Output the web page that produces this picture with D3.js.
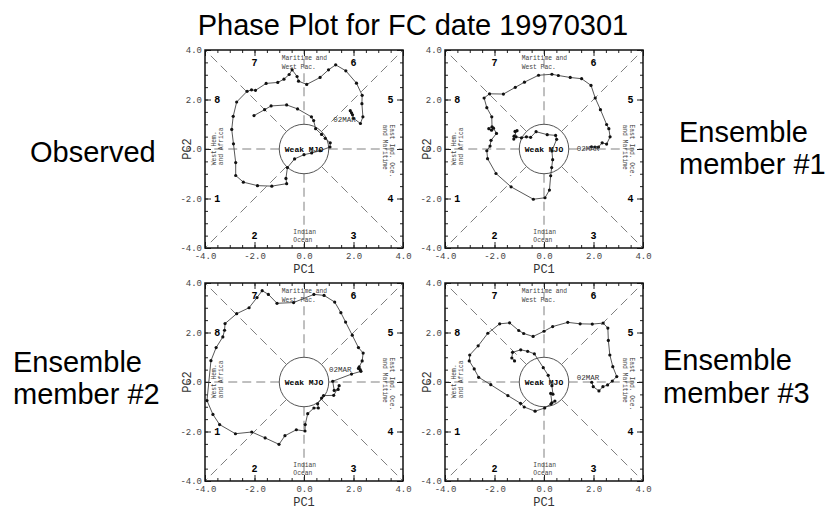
<!DOCTYPE html>
<html>
<head>
<meta charset="utf-8">
<script src="https://cdn.jsdelivr.net/npm/d3@7"></script>
<style>
  body { margin: 0; background: #ffffff; }
  svg { display: block; }
</style>
</head>
<body>
<div id="chart"></div>
<script>
// titles and captions
var title = "Phase Plot for FC date 19970301";
var captions = [["Observed"], ["Ensemble", "member #1"],
                ["Ensemble", "member #2"], ["Ensemble", "member #3"]];

// axis ticks and phase numbers
var tickValues = [-4, -2, 0, 2, 4];
var phaseNums = ["1", "2", "3", "4", "5", "6", "7", "8"];
var phasePC1 = [-3.5, -2, 2, 3.5, 3.5, 2, -2, -3.5];
var phasePC2 = [-2, -3.5, -3.5, -2, 2, 3.5, 3.5, 2];

// observed trajectory
var obsPC1 = [1.87, 1.92, 1.96, 2.00, 2.28, 2.38, 2.34, 2.35, 2.12, 1.69, 1.28, 0.99,
  0.65, 0.11, -0.22, -0.28, -0.48, -0.60, -0.81, -1.06, -1.53, -1.96, -2.12, -2.30,
  -2.72, -2.86, -2.92, -2.85, -2.76, -2.76, -2.45, -1.88, -1.30, -0.70, -0.73, -0.67,
  -0.38, 0.00, 0.31, 0.65, 1.05, 1.06, 0.86, 0.71, 0.47, 0.39, 0.30, -0.26, -0.70,
  -1.33, -1.59, -2.02];
var obsPC2 = [1.55, 1.46, 1.38, 1.24, 1.03, 1.30, 1.83, 2.17, 2.66, 3.16, 3.40, 3.20,
  2.89, 2.61, 2.74, 2.93, 3.20, 3.01, 2.82, 2.69, 2.65, 2.37, 2.39, 2.33, 1.90, 1.32,
  0.79, 0.21, -0.55, -1.07, -1.34, -1.48, -1.50, -1.40, -1.19, -0.75, -0.40, -0.23,
  -0.16, -0.07, 0.08, 0.25, 0.43, 0.59, 0.82, 1.15, 1.30, 1.62, 1.78, 1.74, 1.59, 1.35];

// ensemble member 1
var ens1PC1 = [1.92, 2.06, 2.20, 2.35, 2.53, 2.67, 2.62, 2.53, 2.28, 2.07, 1.90, 1.52,
  1.06, 0.58, 0.32, -0.22, -0.79, -1.16, -1.64, -2.20, -2.42, -2.31, -2.11, -2.10,
  -2.23, -2.12, -2.04, -1.92, -2.14, -2.18, -2.31, -2.28, -1.94, -1.33, -0.43, 0.04,
  0.22, 0.27, 0.31, 0.35, 0.32, 0.51, 0.47, 0.13, -0.32, -0.54, -0.71, -0.91, -1.13,
  -1.17, -1.09, -1.21, -1.22];
var ens1PC2 = [0.09, 0.08, 0.08, 0.25, 0.20, 0.49, 0.82, 0.99, 1.59, 2.06, 2.57, 2.84,
  2.89, 2.97, 3.02, 2.98, 2.70, 2.49, 2.22, 2.23, 2.06, 1.67, 1.30, 0.90, 0.82, 0.76,
  0.84, 0.63, 0.35, 0.12, -0.07, -0.39, -0.99, -1.53, -2.03, -1.97, -1.66, -1.08,
  -0.75, -0.43, -0.08, 0.39, 0.55, 0.58, 0.70, 0.47, 0.49, 0.45, 0.49, 0.71, 0.74,
  0.52, 0.40];

// ensemble member 2
var ens2PC1 = [2.20, 2.27, 2.30, 1.92, 1.16, 1.22, 1.38, 1.42, 1.20, 0.79, 0.71, 0.55,
  0.58, 0.40, 0.15, 0.05, 0.04, -0.31, -0.77, -1.01, -1.57, -2.11, -2.77, -3.41,
  -3.68, -3.92, -3.76, -3.55, -3.28, -3.21, -3.19, -2.72, -2.22, -1.90, -1.69, -1.44,
  -1.09, -0.42, 0.40, 0.81, 1.24, 1.49, 1.68, 1.95, 2.20, 2.39, 2.35, 2.23];
var ens2PC2 = [0.55, 0.50, 0.43, 0.32, 0.03, -0.34, -0.30, -0.15, -0.54, -0.55, -0.65,
  -0.88, -1.05, -1.05, -1.28, -1.72, -1.98, -1.93, -2.17, -2.52, -2.26, -2.02, -2.09,
  -1.72, -1.31, -0.75, 0.86, 1.39, 1.82, 2.09, 2.36, 2.76, 3.00, 3.41, 3.69, 3.54,
  3.18, 3.21, 3.54, 3.50, 3.23, 2.80, 2.42, 1.89, 1.39, 1.17, 0.85, 0.61];

// ensemble member 3
var ens3PC1 = [-1.19, -1.30, -1.27, -0.94, -0.66, -0.39, -0.03, 0.17, 0.32, 0.36, 0.27,
  0.32, 0.44, 0.28, 0.03, -0.36, -0.80, -0.95, -1.46, -2.15, -2.64, -2.82, -3.02,
  -3.00, -2.66, -2.27, -1.79, -1.39, -1.02, -0.82, -0.44, 0.00, 0.35, 0.96, 1.46,
  1.95, 2.39, 2.58, 2.60, 2.66, 2.78, 2.94, 2.76, 2.57, 2.38, 2.22, 1.99, 1.93];
var ens3PC2 = [0.85, 0.97, 1.20, 1.30, 1.24, 1.14, 0.58, 0.27, -0.15, -0.49, -0.46,
  -0.84, -0.77, -0.89, -1.05, -1.18, -1.01, -0.86, -0.55, -0.11, 0.19, 0.53, 0.85,
  1.09, 1.46, 1.97, 2.35, 2.39, 2.08, 1.96, 1.84, 2.05, 2.24, 2.41, 2.35, 2.34, 2.38,
  2.18, 1.68, 1.09, 0.62, 0.22, 0.04, -0.12, -0.19, -0.36, -0.19, -0.01];

// where the start date label sits in each panel
var startLabel = "02MAR";
var startPC1 = [1.18, 1.32, 1.01, 1.32];
var startPC2 = [1.19, 0.03, 0.51, 0.20];

var seriesPC1 = [obsPC1, ens1PC1, ens2PC1, ens3PC1];
var seriesPC2 = [obsPC2, ens1PC2, ens2PC2, ens3PC2];

// layout of the four panels
var size = 198,
    panelPos = [[205, 50], [445, 50], [205, 283], [445, 283]],
    captionPos = [[30, [162]], [679, [142, 174]], [13, [372, 404]], [663, [370, 403]]],
    mono = "'Liberation Mono', 'DejaVu Sans Mono', monospace",
    sans = "'Liberation Sans', Arial, sans-serif";

var svg = d3.select("#chart")
    .append("svg")
    .attr("width", 830)
    .attr("height", 509);

svg.append("text")
    .attr("x", 413)
    .attr("y", 35)
    .attr("text-anchor", "middle")
    .style("font-family", sans)
    .style("font-size", "29px")
    .text(title);

// scales shared by all panels
var x = d3.scaleLinear().domain([-4, 4]).range([0, size]);
var y = d3.scaleLinear().domain([-4, 4]).range([size, 0]);
var fmt = d => d.toFixed(1);

function drawPanel(p) {
  var g = svg.append("g")
      .attr("transform", "translate(" + panelPos[p][0] + "," + panelPos[p][1] + ")");

  // dashed phase boundaries, interrupted by the weak MJO circle
  var angles = d3.range(0, 360, 45);
  g.selectAll(".divider")
      .data(angles)
      .enter().append("line")
      .attr("class", "divider")
      .attr("x1", a => x(Math.cos(a * Math.PI / 180)))
      .attr("y1", a => y(Math.sin(a * Math.PI / 180)))
      .attr("x2", a => {
        var c = Math.cos(a * Math.PI / 180), s = Math.sin(a * Math.PI / 180);
        return x(4 * c / Math.max(Math.abs(c), Math.abs(s)));
      })
      .attr("y2", a => {
        var c = Math.cos(a * Math.PI / 180), s = Math.sin(a * Math.PI / 180);
        return y(4 * s / Math.max(Math.abs(c), Math.abs(s)));
      })
      .attr("stroke", "#808080")
      .attr("stroke-width", 1)
      .attr("stroke-dasharray", "9,5");

  g.append("circle")
      .attr("cx", x(0))
      .attr("cy", y(0))
      .attr("r", x(1) - x(0))
      .attr("fill", "none")
      .attr("stroke", "#555")
      .attr("stroke-width", 1);

  // axes with inward ticks on all four sides
  var minor = d3.range(-4, 4.01, 0.5);
  g.append("g").attr("transform", "translate(0," + size + ")")
      .call(d3.axisBottom(x).tickValues(minor).tickSize(-3).tickFormat(""));
  g.append("g").attr("transform", "translate(0," + size + ")")
      .call(d3.axisBottom(x).tickValues(tickValues).tickSize(-6).tickPadding(5).tickFormat(fmt));
  g.append("g")
      .call(d3.axisLeft(y).tickValues(minor).tickSize(-3).tickFormat(""));
  g.append("g")
      .call(d3.axisLeft(y).tickValues(tickValues).tickSize(-6).tickPadding(3).tickFormat(fmt));
  g.append("g")
      .call(d3.axisTop(x).tickValues(minor).tickSize(-3).tickFormat(""));
  g.append("g")
      .call(d3.axisTop(x).tickValues(tickValues).tickSize(-6).tickFormat(""));
  g.append("g").attr("transform", "translate(" + size + ",0)")
      .call(d3.axisRight(y).tickValues(minor).tickSize(-3).tickFormat(""));
  g.append("g").attr("transform", "translate(" + size + ",0)")
      .call(d3.axisRight(y).tickValues(tickValues).tickSize(-6).tickFormat(""));

  g.selectAll(".domain").remove();
  g.selectAll(".tick line").attr("stroke", "#222");
  g.selectAll(".tick text")
      .style("font-family", mono)
      .style("font-size", "9px")
      .attr("fill", "#444");

  g.append("rect")
      .attr("width", size)
      .attr("height", size)
      .attr("fill", "none")
      .attr("stroke", "#111")
      .attr("stroke-width", 1.5);

  // axis titles
  g.append("text")
      .attr("x", x(0))
      .attr("y", size + 25)
      .attr("text-anchor", "middle")
      .style("font-family", mono)
      .style("font-size", "12px")
      .attr("fill", "#333")
      .text("PC1");

  g.append("text")
      .attr("transform", "translate(-14," + y(0) + ") rotate(-90)")
      .attr("text-anchor", "middle")
      .style("font-family", mono)
      .style("font-size", "12px")
      .attr("fill", "#333")
      .text("PC2");

  // phase numbers
  g.selectAll(".phase")
      .data(phaseNums)
      .enter().append("text")
      .attr("class", "phase")
      .attr("x", (d, i) => x(phasePC1[i]))
      .attr("y", (d, i) => y(phasePC2[i]))
      .attr("dy", "0.35em")
      .attr("text-anchor", "middle")
      .style("font-family", mono)
      .style("font-size", "10px")
      .style("font-weight", "bold")
      .text(d => d);

  // region names
  var small = {"font-family": mono, "font-size": "6.3px"};
  function label(txt, px, py, rot, anchor) {
    var t = g.append("text")
        .attr("transform", "translate(" + x(px) + "," + y(py) + ")" +
              (rot ? " rotate(" + rot + ")" : ""))
        .attr("dy", "0.35em")
        .attr("text-anchor", anchor)
        .attr("fill", "#444")
        .text(txt);
    for (var k in small) t.style(k, small[k]);
  }
  label("Maritime and", -0.9, 3.67, 0, "start");
  label("West Pac.", -0.9, 3.33, 0, "start");
  label("Indian", -0.43, -3.36, 0, "start");
  label("Ocean", -0.43, -3.67, 0, "start");
  label("West Hem.", -3.66, -0.66, -90, "start");
  label("and Africa", -3.36, -0.66, -90, "start");
  label("East Ind. Oce.", 3.55, 0.99, 90, "start");
  label("and Maritime", 3.28, 0.99, 90, "start");

  g.append("text")
      .attr("x", x(0))
      .attr("y", y(0))
      .attr("dy", "0.35em")
      .attr("text-anchor", "middle")
      .style("font-family", mono)
      .style("font-size", "8px")
      .style("font-weight", "bold")
      .text("Weak MJO");

  // trajectory line and daily points
  var pc1 = seriesPC1[p], pc2 = seriesPC2[p];
  var line = d3.line()
      .x(i => x(pc1[i]))
      .y(i => y(pc2[i]));

  g.append("path")
      .attr("d", line(d3.range(pc1.length)))
      .attr("fill", "none")
      .attr("stroke", "#444")
      .attr("stroke-width", 0.9);

  g.selectAll(".pt")
      .data(d3.range(pc1.length))
      .enter().append("circle")
      .attr("class", "pt")
      .attr("cx", i => x(pc1[i]))
      .attr("cy", i => y(pc2[i]))
      .attr("r", 1.6)
      .attr("fill", "#111");

  g.append("text")
      .attr("x", x(startPC1[p]))
      .attr("y", y(startPC2[p]))
      .attr("dy", "0.35em")
      .style("font-family", mono)
      .style("font-size", "7.5px")
      .attr("fill", "#333")
      .text(startLabel);

  // caption beside the panel
  captions[p].forEach((c, j) => {
    svg.append("text")
        .attr("x", captionPos[p][0])
        .attr("y", captionPos[p][1][j])
        .style("font-family", sans)
        .style("font-size", "29px")
        .text(c);
  });
}

for (var p = 0; p < 4; p++) {
  drawPanel(p);
}
</script>
</body>
</html>
